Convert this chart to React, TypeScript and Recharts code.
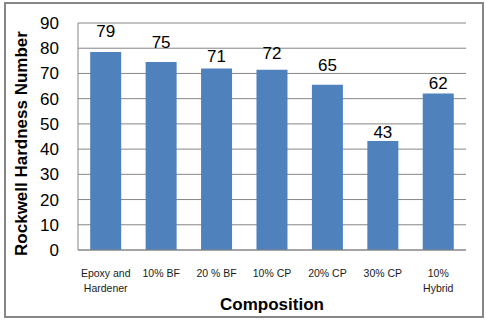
import React from "react";
import { BarChart, Bar, XAxis, YAxis, CartesianGrid, LabelList, Label } from "recharts";

const categories = ["Epoxy and\nHardener", "10% BF", "20 % BF", "10% CP", "20% CP", "30% CP", "10%\nHybrid"];
const hardness = [78.5, 74.5, 72, 71.5, 65.5, 43.2, 62];
const valueLabels = ["79", "75", "71", "72", "65", "43", "62"];
const yTicks = [0, 10, 20, 30, 40, 50, 60, 70, 80, 90];
const labelGap = [15, 14, 6, 11, 14, 3, 5];

const data = categories.map((c, i) => ({ name: c, value: hardness[i] }));

const FONT = "'Liberation Sans', Arial, sans-serif";

const XTick = (props: any) => {
  const { x, y, payload } = props;
  const lines = String(payload.value).split("\n");
  return (
    <g>
      {lines.map((l: string, i: number) => (
        <text key={i} x={x} y={y + 19 + i * 15} textAnchor="middle" fontSize={10.5} fontFamily={FONT} fill="#1a1a1a">
          {l}
        </text>
      ))}
    </g>
  );
};

export default function App() {
  return (
    <div style={{ position: "fixed", left: 0, top: 0, width: 487, height: 322, background: "#fff" }}>
      <div
        style={{
          position: "absolute",
          left: 4,
          top: 2,
          width: 480,
          height: 316,
          boxSizing: "border-box",
          border: "2px solid #868686",
        }}
      />
      <div style={{ position: "absolute", left: 0, top: 0 }}>
        <BarChart width={487} height={322} data={data} margin={{ top: 23, right: 21, left: 0, bottom: 0 }} barCategoryGap="22%">
          <CartesianGrid vertical={false} stroke="#868686" strokeWidth={1} />
          <XAxis
            dataKey="name"
            height={72}
            tick={<XTick />}
            tickLine={false}
            axisLine={{ stroke: "#868686" }}
            interval={0}
          >
            <Label
              content={({ viewBox }: any) => (
                <text
                  x={viewBox.x + viewBox.width / 2}
                  y={viewBox.y + 60}
                  textAnchor="middle"
                  fontSize={17}
                  fontWeight="bold"
                  fontFamily={FONT}
                  fill="#000"
                >
                  Composition
                </text>
              )}
            />
          </XAxis>
          <YAxis
            width={78}
            domain={[0, 90]}
            ticks={yTicks}
            interval={0}
            tickLine={false}
            tickSize={0}
            tickMargin={19}
            axisLine={{ stroke: "#868686" }}
            tick={{ fontSize: 17, fontFamily: FONT, fill: "#000" }}
          >
            <Label
              content={({ viewBox }: any) => {
                const cx = 27;
                const cy = viewBox.y + viewBox.height / 2 + 7;
                return (
                  <text
                    x={cx}
                    y={cy}
                    transform={`rotate(-90 ${cx} ${cy})`}
                    textAnchor="middle"
                    fontSize={17}
                    fontWeight="bold"
                    fontFamily={FONT}
                    fill="#000"
                  >
                    Rockwell Hardness Number
                  </text>
                );
              }}
            />
          </YAxis>
          <Bar dataKey="value" fill="#4F81BD" isAnimationActive={false}>
            <LabelList
              dataKey="value"
              content={(p: any) => (
                <text
                  x={p.x + p.width / 2}
                  y={p.y - labelGap[p.index]}
                  textAnchor="middle"
                  fontSize={17}
                  fontFamily={FONT}
                  fill="#000"
                >
                  {valueLabels[p.index]}
                </text>
              )}
            />
          </Bar>
        </BarChart>
      </div>
    </div>
  );
}
